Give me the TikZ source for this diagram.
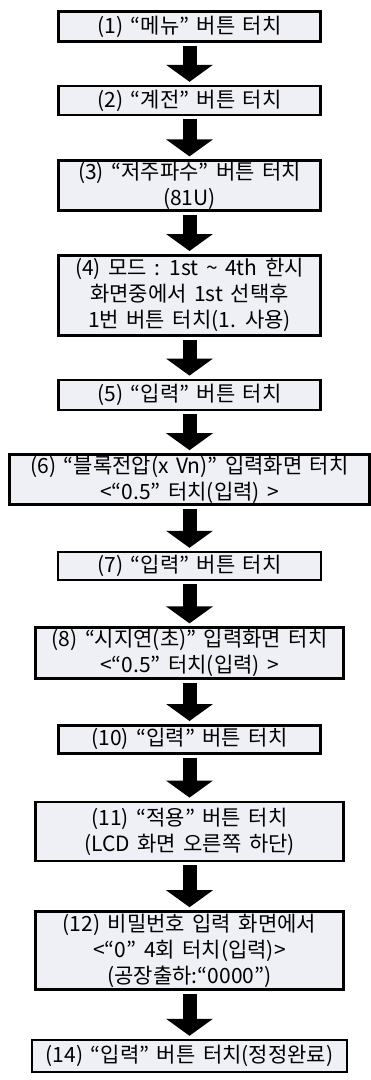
\documentclass[tikz,border=0pt]{standalone}
\usepackage{fontspec}
\setmainfont[WordSpace=1.6]{Noto Sans CJK KR}
\usetikzlibrary{arrows.meta, positioning}
\definecolor{boxfill}{HTML}{EEF0F5}

\begin{document}
\begin{tikzpicture}[x=1pt, y=1pt, every node/.style={font=\fontsize{21}{26}\selectfont},
  box/.style={rectangle, draw, line width=2.6pt, fill=boxfill, align=center, inner sep=1pt},
  flow/.style={line width=14pt, -{Triangle[width=46pt, length=17pt]}, shorten <=3pt, shorten >=3pt}]
  \useasboundingbox (0,0) rectangle (371,-1080);
  % Nodes
  \node (s1) [box, minimum width=262pt, minimum height=30pt] at (189.5,-26.5) {(1) “메뉴” 버튼 터치};
  \node (s2) [box, minimum width=262pt, minimum height=29pt, below=42pt of s1] {(2) “계전” 버튼 터치};
  \node (s3) [box, minimum width=262pt, minimum height=50pt, below=43pt of s2] {(3) “저주파수” 버튼 터치\\(81U)};
  \node (s4) [box, minimum width=262pt, minimum height=80pt, below=42pt of s3] {(4) 모드 : 1st \~{} 4th 한시\\화면중에서 1st 선택후\\ 1번 버튼 터치(1. 사용)};
  \node (s5) [box, minimum width=262pt, minimum height=30pt, below=42pt of s4] {(5) “입력” 버튼 터치};
  \node (s6) [box, minimum width=360pt, minimum height=50pt, below=42pt of s5] {(6) “블록전압(x Vn)” 입력화면 터치\\<“0.5" 터치(입력) >};
  \node (s7) [box, minimum width=263pt, minimum height=28pt, below=45pt of s6] {(7) “입력” 버튼 터치};
  \node (s8) [box, minimum width=308pt, minimum height=51pt, below=45pt of s7] {(8) “시지연(초)” 입력화면 터치\\<“0.5" 터치(입력) >};
  \node (s10) [box, minimum width=262pt, minimum height=28pt, below=44pt of s8] {(10) “입력” 버튼 터치};
  \node (s11) [box, minimum width=308pt, minimum height=59pt, below=46pt of s10] {(11) “적용” 버튼 터치\\(LCD 화면 오른쪽 하단)};
  \node (s12) [box, minimum width=308pt, minimum height=78pt, below=48pt of s11] {(12) 비밀번호 입력 화면에서\\<“0” 4회 터치(입력)>\\(공장출하:“0000")};
  \node (s14) [box, minimum width=315pt, minimum height=32pt, below=48pt of s12] {(14) “입력” 버튼 터치(정정완료)};

  % Arrows
  \draw[flow] (s1.south) -- (s2.north);
  \draw[flow] (s2.south) -- (s3.north);
  \draw[flow] (s3.south) -- (s4.north);
  \draw[flow] (s4.south) -- (s5.north);
  \draw[flow] (s5.south) -- (s6.north);
  \draw[flow] (s6.south) -- (s7.north);
  \draw[flow] (s7.south) -- (s8.north);
  \draw[flow] (s8.south) -- (s10.north);
  \draw[flow] (s10.south) -- (s11.north);
  \draw[flow] (s11.south) -- (s12.north);
  \draw[flow] (s12.south) -- (s14.north);
\end{tikzpicture}
\end{document}
